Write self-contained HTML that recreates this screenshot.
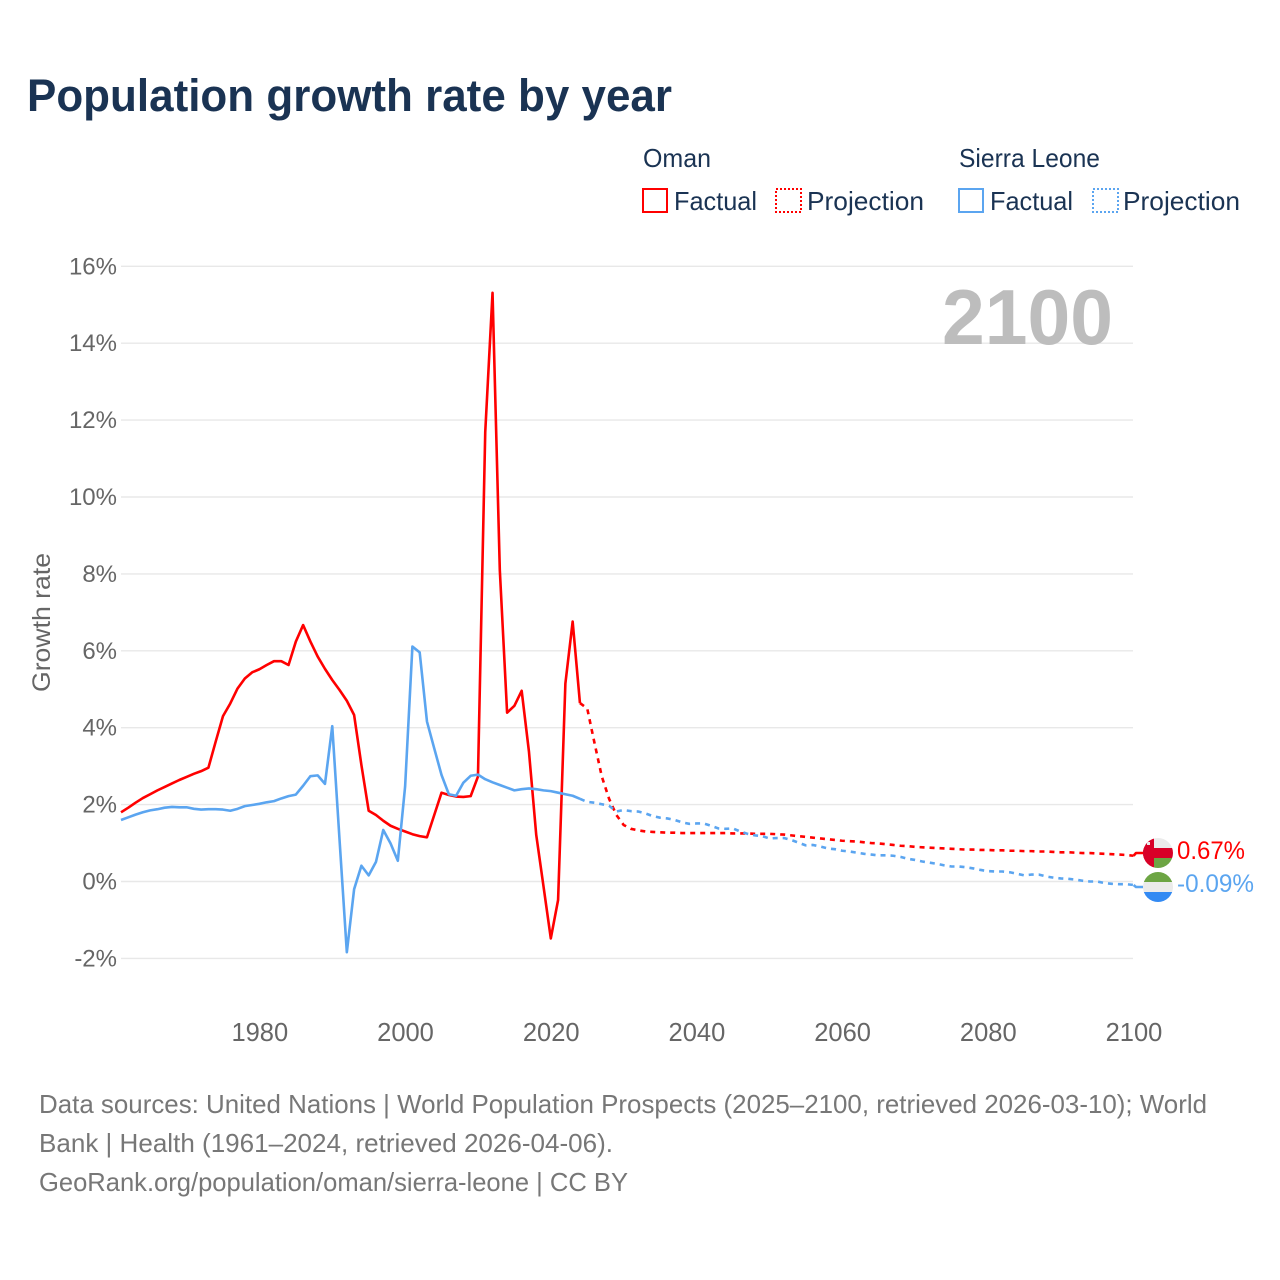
<!DOCTYPE html>
<html lang="en">
<head>
<meta charset="utf-8">
<title>Population growth rate by year</title>
<style>
html,body{margin:0;padding:0;background:#fff;}
svg{display:block;font-family:"Liberation Sans",sans-serif;}
</style>
</head>
<body>
<svg id="chart" xmlns="http://www.w3.org/2000/svg" width="1280" height="1280" viewBox="0 0 1280 1280">
  <rect x="0" y="0" width="1280" height="1280" fill="#ffffff"/>
  <text x="27" y="111" font-size="45" font-weight="bold" fill="#1a3353" textLength="645" lengthAdjust="spacingAndGlyphs">Population growth rate by year</text>

  <g font-size="26" fill="#1a3353">
    <text x="643" y="167" textLength="68" lengthAdjust="spacingAndGlyphs">Oman</text>
    <rect x="643" y="189" width="24" height="23" fill="none" stroke="#ff0000" stroke-width="2"/>
    <text x="674" y="210" textLength="83" lengthAdjust="spacingAndGlyphs">Factual</text>
    <rect x="776" y="189" width="25" height="23" fill="none" stroke="#ff0000" stroke-width="2" stroke-dasharray="2 2"/>
    <text x="807" y="210" textLength="117" lengthAdjust="spacingAndGlyphs">Projection</text>
    <text x="959" y="167" textLength="141" lengthAdjust="spacingAndGlyphs">Sierra Leone</text>
    <rect x="959" y="189" width="24" height="23" fill="none" stroke="#5ba5f0" stroke-width="2"/>
    <text x="990" y="210" textLength="83" lengthAdjust="spacingAndGlyphs">Factual</text>
    <rect x="1093" y="189" width="25" height="23" fill="none" stroke="#5ba5f0" stroke-width="2" stroke-dasharray="2 2"/>
    <text x="1123" y="210" textLength="117" lengthAdjust="spacingAndGlyphs">Projection</text>
  </g>

  <g id="grid"></g>
  <g id="yTicks" font-size="24" fill="#666666" text-anchor="end"></g>
  <g id="xTicks" font-size="25.5" fill="#666666" text-anchor="middle"></g>
  <text transform="translate(50 622.5) rotate(-90)" font-size="25" fill="#666666" text-anchor="middle" textLength="139" lengthAdjust="spacingAndGlyphs">Growth rate</text>
  <text x="942" y="344" font-size="78" font-weight="bold" fill="#bdbdbd" textLength="171" lengthAdjust="spacingAndGlyphs">2100</text>

  <g id="series"></g>

  <g>
    <clipPath id="clipOman"><circle cx="1158" cy="853" r="15"/></clipPath>
    <g clip-path="url(#clipOman)">
      <rect x="1143" y="838" width="30" height="10" fill="#ebebeb"/>
      <rect x="1143" y="848" width="30" height="10" fill="#d80027"/>
      <rect x="1154" y="858" width="19" height="10" fill="#6da544"/>
      <rect x="1143" y="838" width="11" height="30" fill="#d80027"/>
      <rect x="1147" y="842" width="3" height="3" fill="#ebebeb"/>
    </g>
  </g>
  <g>
    <clipPath id="clipSL"><circle cx="1158" cy="887" r="15"/></clipPath>
    <g clip-path="url(#clipSL)">
      <rect x="1143" y="872" width="30" height="10" fill="#6da544"/>
      <rect x="1143" y="882" width="30" height="10" fill="#ebebeb"/>
      <rect x="1143" y="892" width="30" height="10" fill="#338af3"/>
    </g>
  </g>
  <text id="valueOman" x="1177" y="859" font-size="25" fill="#ff0000" textLength="68" lengthAdjust="spacingAndGlyphs"></text>
  <text id="valueSL" x="1177" y="892" font-size="25" fill="#5ba5f0" textLength="77" lengthAdjust="spacingAndGlyphs"></text>

  <g font-size="26" fill="#777777">
    <text x="39" y="1113" textLength="1168" lengthAdjust="spacingAndGlyphs">Data sources: United Nations | World Population Prospects (2025–2100, retrieved 2026-03-10); World</text>
    <text x="39" y="1152" textLength="574" lengthAdjust="spacingAndGlyphs">Bank | Health (1961–2024, retrieved 2026-04-06).</text>
    <text x="39" y="1191" textLength="589" lengthAdjust="spacingAndGlyphs">GeoRank.org/population/oman/sierra-leone | CC BY</text>
  </g>
</svg>
<script>
const yTickValues = [-2, 0, 2, 4, 6, 8, 10, 12, 14, 16];
const xTickYears = [1980, 2000, 2020, 2040, 2060, 2080, 2100];
const factualStartYear = 1961;
const projectionStartYear = 2024;
const omanFactual = [1.80,1.92,2.05,2.17,2.27,2.37,2.46,2.55,2.64,2.72,2.80,2.87,2.96,3.64,4.30,4.63,5.02,5.28,5.44,5.52,5.63,5.73,5.73,5.63,6.24,6.67,6.24,5.85,5.53,5.24,4.98,4.70,4.33,3.03,1.84,1.73,1.58,1.45,1.37,1.30,1.23,1.18,1.15,1.73,2.31,2.25,2.21,2.20,2.22,2.73,11.69,15.31,8.10,4.39,4.57,4.96,3.38,1.21,-0.13,-1.48,-0.48,5.15,6.76,4.64];
const omanProjection = [4.64,4.50,3.60,2.73,2.15,1.73,1.47,1.37,1.33,1.30,1.29,1.28,1.27,1.27,1.26,1.26,1.26,1.26,1.26,1.26,1.26,1.25,1.25,1.25,1.24,1.24,1.24,1.23,1.22,1.20,1.18,1.16,1.14,1.12,1.10,1.08,1.06,1.05,1.04,1.02,1.00,0.99,0.97,0.95,0.93,0.92,0.90,0.89,0.88,0.87,0.86,0.85,0.84,0.83,0.83,0.82,0.82,0.81,0.81,0.80,0.80,0.79,0.79,0.78,0.78,0.77,0.76,0.76,0.75,0.74,0.74,0.73,0.72,0.71,0.70,0.69,0.67];
const sierraFactual = [1.60,1.67,1.74,1.80,1.85,1.88,1.92,1.94,1.93,1.93,1.89,1.87,1.88,1.88,1.87,1.84,1.89,1.96,1.99,2.02,2.06,2.09,2.16,2.22,2.26,2.49,2.74,2.76,2.54,4.04,1.08,-1.84,-0.20,0.41,0.16,0.51,1.34,0.99,0.54,2.47,6.11,5.96,4.16,3.46,2.77,2.27,2.23,2.57,2.75,2.78,2.66,2.58,2.51,2.44,2.37,2.40,2.42,2.40,2.37,2.35,2.31,2.27,2.23,2.15];
const sierraProjection = [2.15,2.07,2.05,2.01,1.97,1.82,1.86,1.83,1.82,1.77,1.70,1.66,1.64,1.60,1.54,1.50,1.51,1.51,1.45,1.38,1.37,1.38,1.30,1.24,1.20,1.18,1.12,1.13,1.13,1.08,1.01,0.94,0.95,0.91,0.86,0.84,0.80,0.78,0.75,0.72,0.70,0.68,0.68,0.67,0.64,0.59,0.56,0.52,0.49,0.46,0.42,0.39,0.39,0.37,0.34,0.30,0.27,0.26,0.26,0.24,0.20,0.16,0.18,0.18,0.13,0.10,0.08,0.07,0.05,0.02,0.00,0.00,-0.04,-0.06,-0.07,-0.07,-0.09];
const printedValues = ["0.67%", "-0.09%"];

const NS = 'http://www.w3.org/2000/svg';
const xScale = year => 121 + (year - 1961) * (1012.6 / 139);
const yScale = value => 881.5 - value * 38.45;

function pathFor(values, startYear) {
  return values.map((v, i) => (i ? 'L' : 'M') + xScale(startYear + i).toFixed(2) + ' ' + yScale(v).toFixed(2)).join(' ');
}

const gridGroup = document.getElementById('grid');
const yTickGroup = document.getElementById('yTicks');
yTickValues.forEach(v => {
  const line = document.createElementNS(NS, 'line');
  
  
  line.setAttribute('x1', 121);
  line.setAttribute('x2', 1133);
  line.setAttribute('y1', yScale(v));
  line.setAttribute('y2', yScale(v));
  line.setAttribute('stroke', '#e8e8e8');
  line.setAttribute('stroke-width', '1.4');
  gridGroup.appendChild(line);
  const label = document.createElementNS(NS, 'text');
  
  
  label.setAttribute('x', 117);
  label.setAttribute('y', yScale(v) + 8);
  label.textContent = v + '%';
  yTickGroup.appendChild(label);
});

const xTickGroup = document.getElementById('xTicks');
xTickYears.forEach(year => {
  const label = document.createElementNS(NS, 'text');
  
  
  label.setAttribute('x', xScale(year) + 0.4);
  label.setAttribute('y', 1041);
  label.textContent = year;
  xTickGroup.appendChild(label);
});

const seriesGroup = document.getElementById('series');
function addLine(d, color, dashed) {
  const p = document.createElementNS(NS, 'path');
  p.setAttribute('d', d);
  p.setAttribute('fill', 'none');
  p.setAttribute('stroke', color);
  p.setAttribute('stroke-width', '2.6');
  p.setAttribute('stroke-linejoin', 'round');
  if (dashed) p.setAttribute('stroke-dasharray', '5 5');
  seriesGroup.appendChild(p);
  return p;
}

const omanFactualLine = addLine(pathFor(omanFactual, factualStartYear), '#ff0000', false);


const omanProjectionLine = addLine(pathFor(omanProjection, projectionStartYear), '#ff0000', true);


const sierraFactualLine = addLine(pathFor(sierraFactual, factualStartYear), '#5ba5f0', false);


const sierraProjectionLine = addLine(pathFor(sierraProjection, projectionStartYear), '#5ba5f0', true);



const lastX = xScale(2100);
const omanLeader = addLine('M' + lastX + ' ' + yScale(omanProjection[omanProjection.length - 1]) + ' L1136 853 L1143 853', '#ff0000', false);


const sierraLeader = addLine('M' + lastX + ' ' + yScale(sierraProjection[sierraProjection.length - 1]) + ' L1136 887 L1143 887', '#5ba5f0', false);



document.getElementById('valueOman').textContent = printedValues[0];
document.getElementById('valueSL').textContent = printedValues[1];
</script>
</body>
</html>
